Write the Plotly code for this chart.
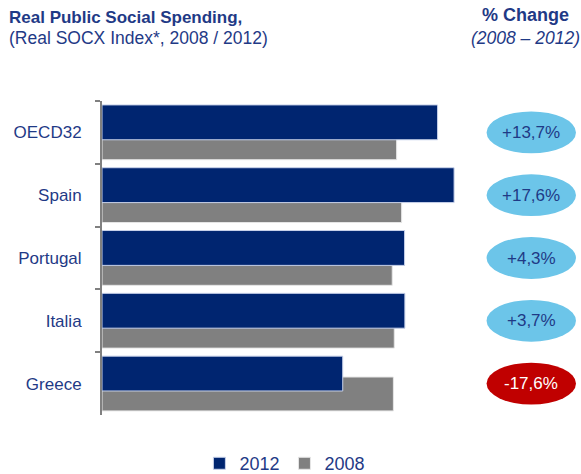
import plotly.graph_objects as go

countries = ['OECD32', 'Spain', 'Portugal', 'Italia', 'Greece']
socx_2012 = [113.9, 119.5, 102.7, 102.8, 81.7]
socx_2008 = [100.0, 101.7, 98.5, 99.2, 98.9]
pct_change = ['+13,7%', '+17,6%', '+4,3%', '+3,7%', '-17,6%']

navy = '#002570'
grey = '#808080'
txt = '#1f3a86'
font_fam = 'Liberation Sans, Arial'

fig = go.Figure()
# 2008 drawn first so the 2012 bar sits on top of it
fig.add_trace(go.Bar(
    y=countries, x=socx_2008, orientation='h', name='2008',
    marker=dict(color=grey, line=dict(color='#e6e6e6', width=1)),
    width=0.54, offset=-0.105, legendrank=2,
))
fig.add_trace(go.Bar(
    y=countries, x=socx_2012, orientation='h', name='2012',
    marker=dict(color=navy, line=dict(color='#c8d2ea', width=1)),
    width=0.555, offset=-0.4375, legendrank=1,
))

# % change bubbles on the right
for i, (c, p) in enumerate(zip(countries, pct_change)):
    neg = p.startswith('-')
    fig.add_shape(type='circle', xref='paper', yref='y',
                  x0=1.045, x1=1.288, y0=i - 0.333, y1=i + 0.333,
                  fillcolor='#c00000' if neg else '#6cc5e9', line=dict(width=0))
    fig.add_annotation(x=1.1665, y=c, xref='paper', yref='y', text=p, showarrow=False,
                       xanchor='center', yanchor='middle',
                       font=dict(size=17, color='white' if neg else txt, family=font_fam))

# titles
fig.add_annotation(x=-0.258, y=1.2675, xref='paper', yref='paper', xanchor='left', yanchor='middle',
                   text='<b>Real Public Social Spending,</b>', showarrow=False, align='left',
                   font=dict(size=17, color=txt, family=font_fam))
fig.add_annotation(x=-0.258, y=1.2006, xref='paper', yref='paper', xanchor='left', yanchor='middle',
                   text='(Real SOCX Index*, 2008 / 2012)', showarrow=False, align='left',
                   font=dict(size=17.5, color=txt, family=font_fam))
fig.add_annotation(x=1.151, y=1.274, xref='paper', yref='paper', xanchor='center', yanchor='middle',
                   text='<b>% Change</b>', showarrow=False,
                   font=dict(size=18, color=txt, family=font_fam))
fig.add_annotation(x=1.151, y=1.2006, xref='paper', yref='paper', xanchor='center', yanchor='middle',
                   text='<i>(2008 – 2012)</i>', showarrow=False,
                   font=dict(size=17.5, color=txt, family=font_fam))

fig.update_layout(
    width=581, height=474,
    margin=dict(l=102, r=111, t=101, b=59, autoexpand=False),
    paper_bgcolor='white', plot_bgcolor='white',
    barmode='overlay', showlegend=True,
    font=dict(family=font_fam, color=txt, size=17),
    legend=dict(orientation='h', x=0.497, y=0.022, xref='paper', yref='container',
                xanchor='center', yanchor='middle',
                font=dict(size=18, color=txt), itemwidth=30),
    xaxis=dict(range=[0, 124.9], visible=False),
    yaxis=dict(range=[4.5, -0.5], showline=True, linecolor=grey, linewidth=2,
               ticks='outside', ticklen=5, tickcolor=grey, tickwidth=2,
               tickson='boundaries', showgrid=False, ticklabelstandoff=15,
               automargin=False, tickfont=dict(size=17, color=txt)),
)

# the page body has a default 8px margin; drop it so the figure fills the window
fig.write_html('out.html', config={'displayModeBar': False},
               post_script="document.body.style.margin='0';")
